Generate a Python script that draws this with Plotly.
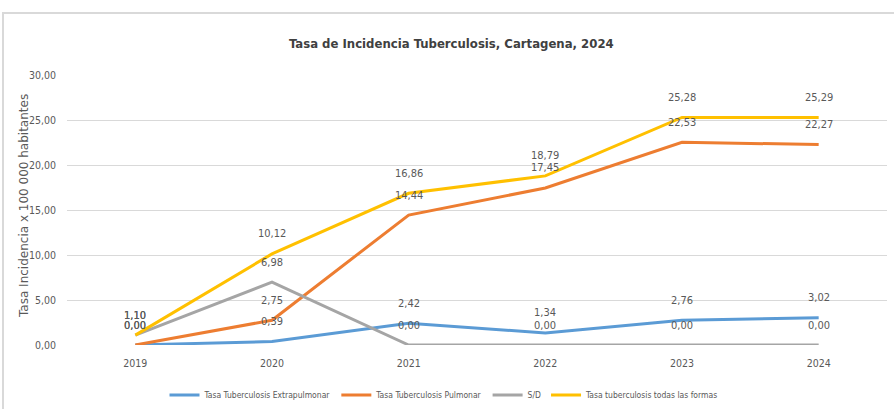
import plotly.graph_objects as go

years = ["2019", "2020", "2021", "2022", "2023", "2024"]
extrapulmonar = [0.00, 0.39, 2.42, 1.34, 2.76, 3.02]
pulmonar = [0.00, 2.75, 14.44, 17.45, 22.53, 22.27]
sin_dato = [1.10, 6.98, 0.00, 0.00, 0.00, 0.00]
todas = [1.10, 10.12, 16.86, 18.79, 25.28, 25.29]

series = [
    ("Tasa Tuberculosis Extrapulmonar", extrapulmonar, "#5B9BD5"),
    ("Tasa Tuberculosis Pulmonar", pulmonar, "#ED7D31"),
    ("S/D", sin_dato, "#A5A5A5"),
    ("Tasa tuberculosis todas las formas", todas, "#FFC000"),
]

NARROW = "DejaVu Sans Condensed, Liberation Sans Narrow, Roboto, sans-serif"
TXT = "#595959"

fig = go.Figure()
annotations = []
for name, vals, color in series:
    fig.add_trace(go.Scatter(
        x=years, y=vals, name=name, mode="lines",
        line=dict(color=color, width=3),
    ))
    for i, yv in enumerate(vals):
        annotations.append(dict(
            x=i, y=yv, xref="x", yref="y",
            text=f"{yv:.2f}".replace(".", ","),
            showarrow=False, yshift=20,
            font=dict(family=NARROW, size=11, color=TXT),
        ))

annotations.append(dict(
    x=(451 - 67) / 820, y=(345 - 43) / 270, xref="paper", yref="paper",
    text="<b>Tasa de Incidencia Tuberculosis, Cartagena, 2024</b>",
    showarrow=False, xanchor="center", yanchor="middle",
    font=dict(family=NARROW, size=13, color="#404040"),
))
annotations.append(dict(
    x=(24 - 67) / 820, y=(345 - 206) / 270, xref="paper", yref="paper",
    text="Tasa Incidencia x 100 000 habitantes", textangle=-90,
    showarrow=False, xanchor="center", yanchor="middle",
    font=dict(family="DejaVu Sans", size=12, color=TXT),
))

fig.update_layout(
    width=894, height=409,
    margin=dict(l=67, r=7, t=75, b=64, autoexpand=False),
    paper_bgcolor="white", plot_bgcolor="white",
    separators=",.",
    showlegend=True,
    legend=dict(
        orientation="h", x=(444 - 67) / 820, xanchor="center",
        y=(345 - 395) / 270, yanchor="middle",
        font=dict(family=NARROW, size=8.5, color=TXT),
        itemwidth=30, tracegroupgap=0,
    ),
    annotations=annotations,
    shapes=[dict(
        type="rect", xref="paper", yref="paper",
        x0=(3 - 67) / 820, x1=(900 - 67) / 820,
        y0=(345 - 420) / 270, y1=(345 - 13) / 270,
        line=dict(color="#D9D9D9", width=2), fillcolor="rgba(0,0,0,0)",
        layer="below",
    )],
    xaxis=dict(
        type="category", range=[-0.5, 5.5], automargin=False,
        showgrid=False, zeroline=False, showline=False,
        tickfont=dict(family=NARROW, size=10.5, color=TXT),
        ticks="", ticklabelstandoff=10,
    ),
    yaxis=dict(
        range=[0, 30], dtick=5, tickformat=".2f", automargin=False,
        showgrid=True, gridcolor="#D9D9D9", gridwidth=1,
        zeroline=False, showline=False, ticks="",
        tickfont=dict(family=NARROW, size=10.5, color=TXT),
        ticklabelstandoff=10,
    ),
)

fig.write_html("out.html", config={"displayModeBar": False},
               post_script="document.body.style.margin='0';")
